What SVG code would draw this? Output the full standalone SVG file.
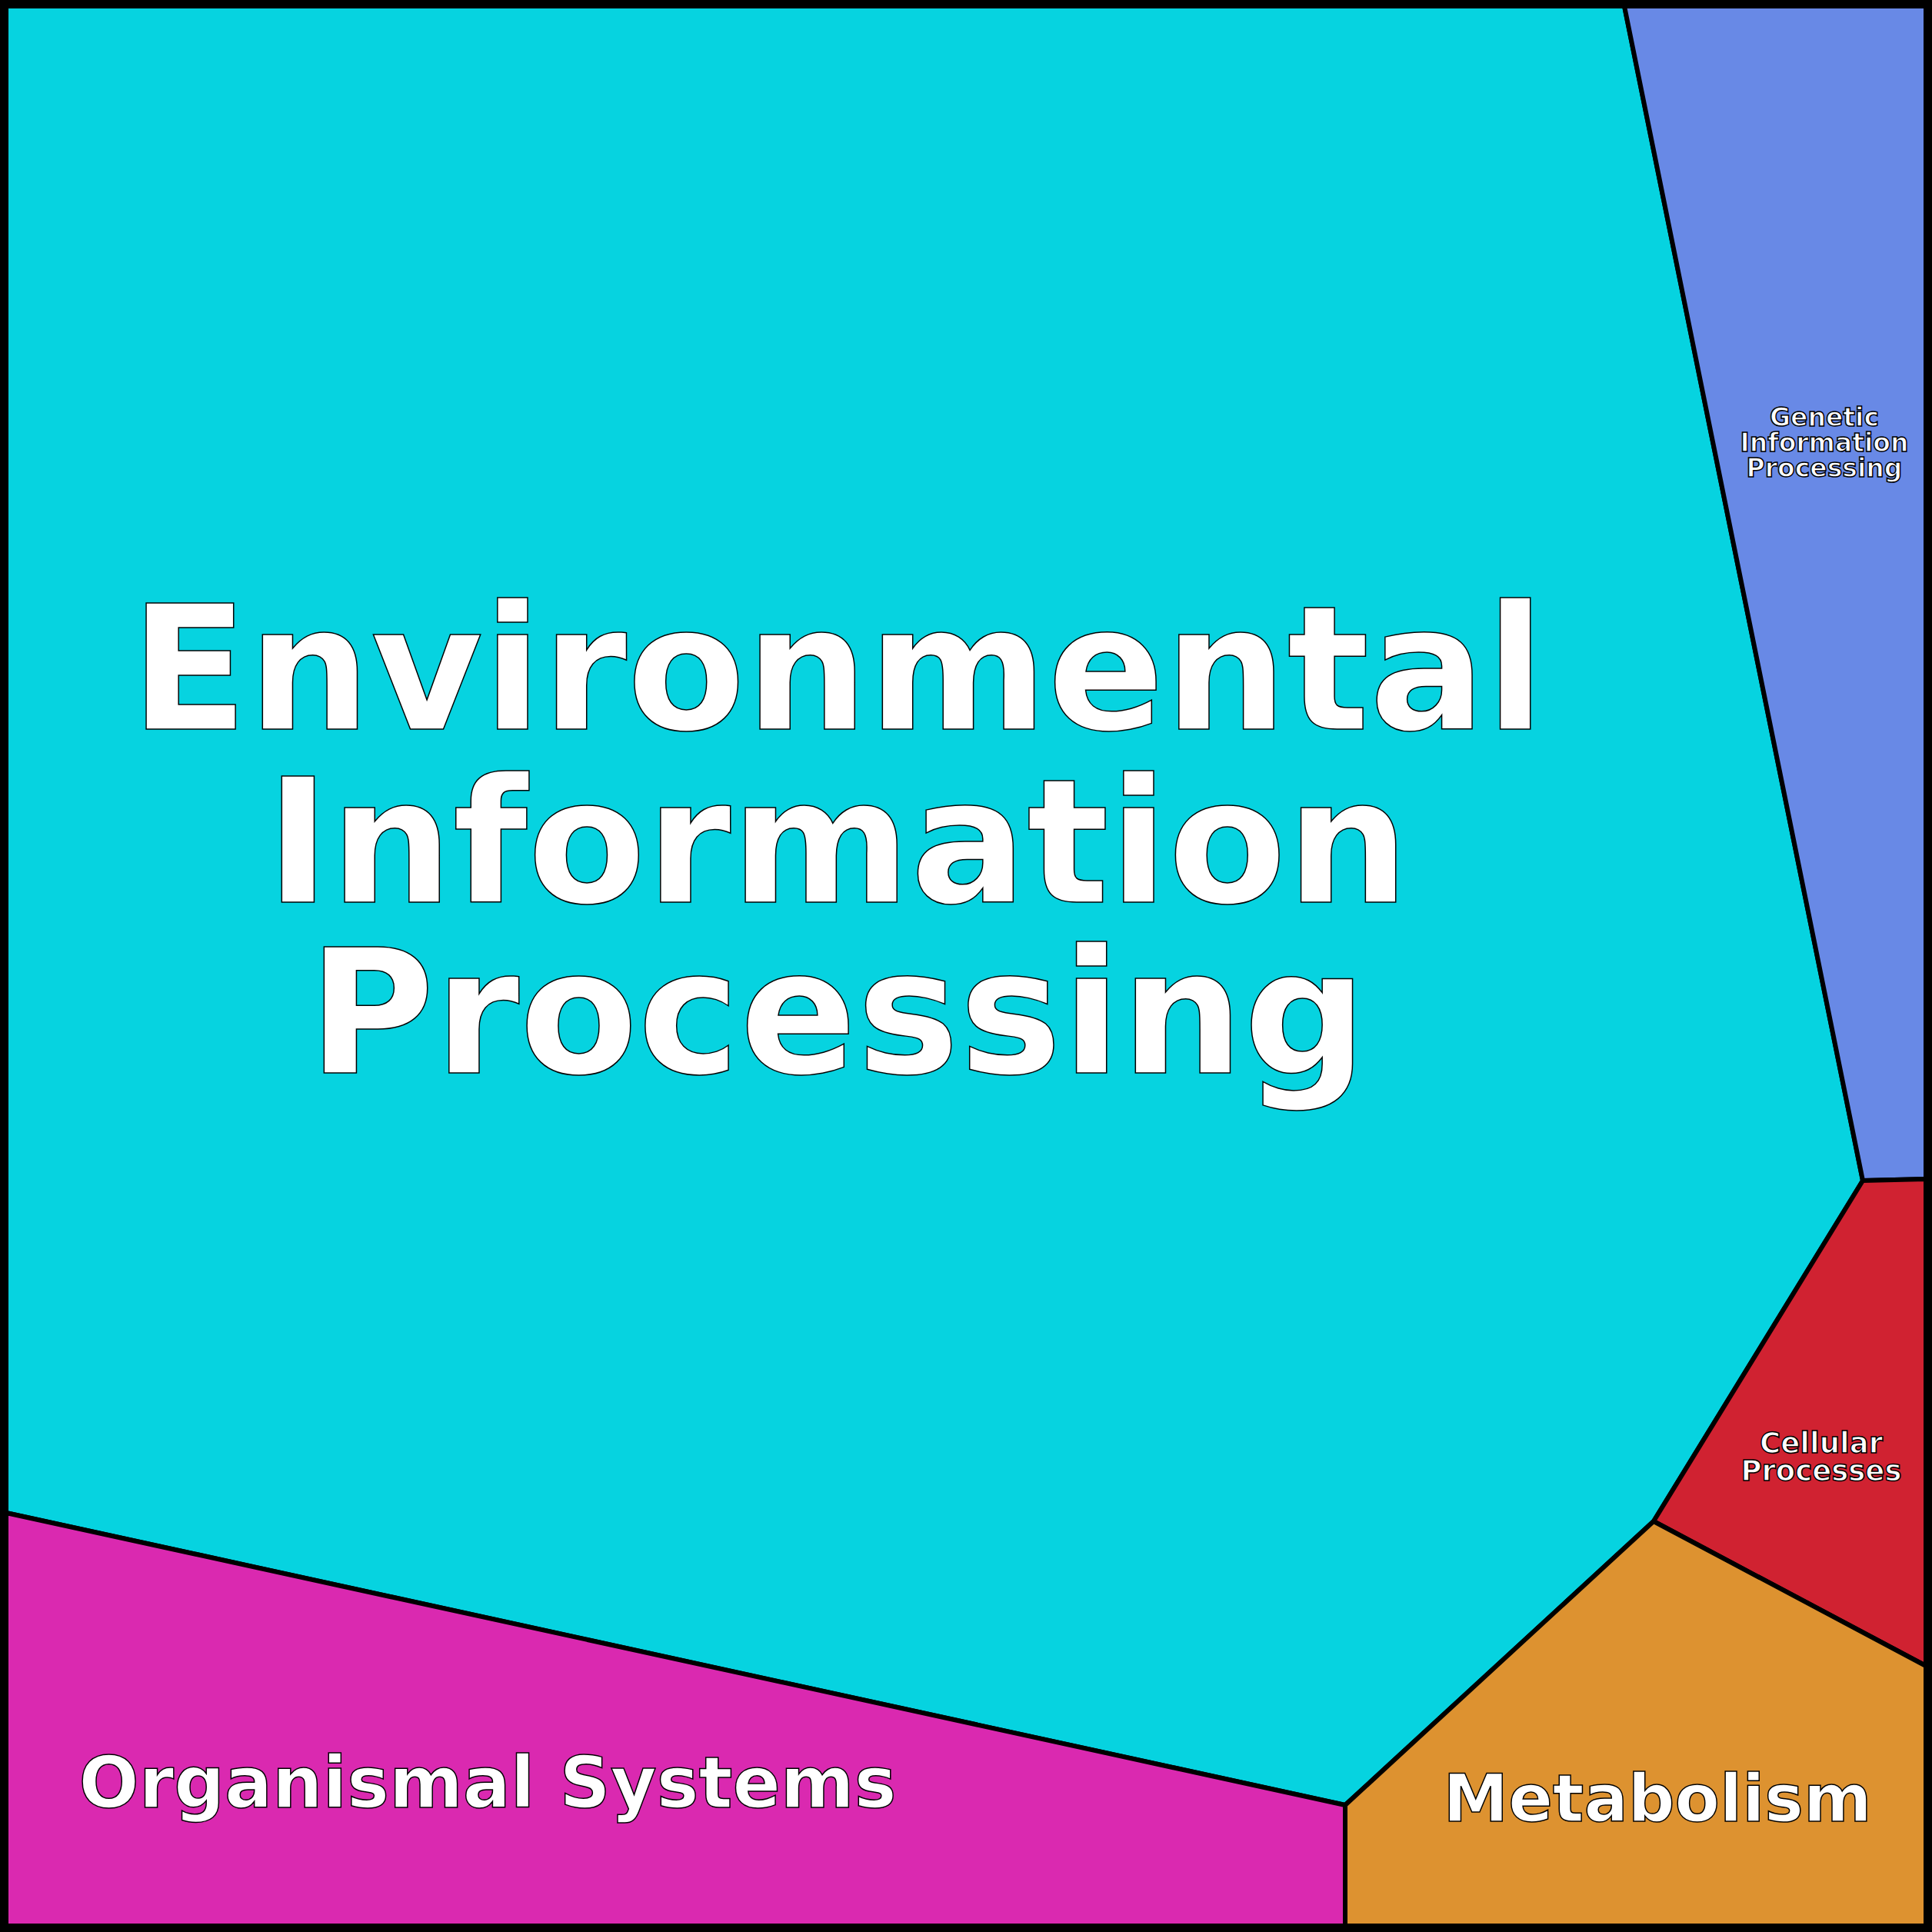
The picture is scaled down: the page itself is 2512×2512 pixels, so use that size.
<svg xmlns="http://www.w3.org/2000/svg" width="2512" height="2512" viewBox="0 0 2512 2512">
<style>
.r{stroke:#000;stroke-width:6;stroke-linejoin:round}
.t{font-family:"DejaVu Sans",sans-serif;font-weight:bold;fill:#fff;stroke:#000;stroke-width:1.5;text-anchor:middle}
</style>
<g id="env"><polygon class="r" fill="#06d3e0" points="8,8 2112,8 2422,1535 2150,1978 1749,2347 8,1967"/>
<text class="t" font-size="224" x="1089" y="948">Environmental</text>
<text class="t" font-size="224" x="1089" y="1173">Information</text>
<text class="t" font-size="224" x="1089" y="1395">Processing</text></g>
<g id="gen"><polygon class="r" fill="#6889e6" points="2112,8 2504,8 2504,1533 2422,1535"/>
<text class="t" font-size="33" x="2372" y="554">Genetic</text>
<text class="t" font-size="33" x="2372" y="587">Information</text>
<text class="t" font-size="33" x="2372" y="620">Processing</text></g>
<g id="cell"><polygon class="r" fill="#d02231" points="2422,1535 2504,1533 2504,2166 2150,1978"/>
<text class="t" font-size="37" x="2368" y="1889">Cellular</text>
<text class="t" font-size="37" x="2368" y="1925">Processes</text></g>
<g id="met"><polygon class="r" fill="#dd9230" points="2150,1978 2504,2166 2504,2504 1749,2504 1749,2347"/>
<text class="t" font-size="85" x="2155" y="2368">Metabolism</text></g>
<g id="org"><polygon class="r" fill="#da29b0" points="8,1967 1749,2347 1749,2504 8,2504"/>
<text class="t" font-size="92" x="634" y="2350">Organismal Systems</text></g>
<g id="connectors"></g>
<rect x="4" y="4" width="2504" height="2504" fill="none" stroke="#000" stroke-width="9"/>
</svg>
